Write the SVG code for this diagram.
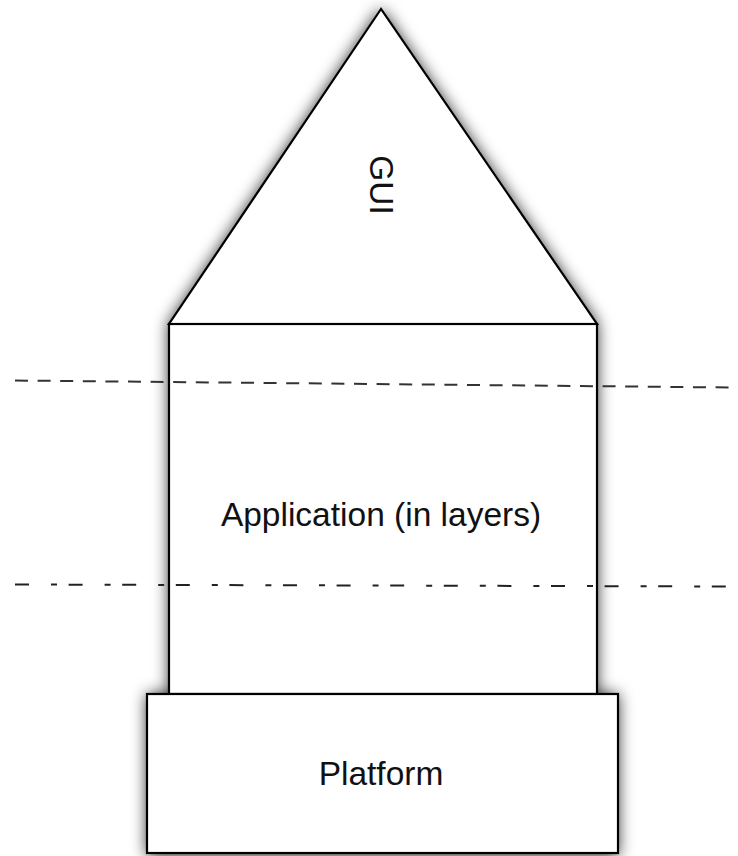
<svg xmlns="http://www.w3.org/2000/svg" width="738" height="856" viewBox="0 0 738 856">
  <defs>
    <filter id="soft" x="-20%" y="-20%" width="140%" height="140%">
      <feGaussianBlur stdDeviation="8"/>
    </filter>
  </defs>
  <style>
    .shape { fill: #ffffff; stroke: #000000; stroke-width: 2.2; stroke-linejoin: miter; }
    .shadow { fill: #000000; fill-opacity: 0.85; stroke: none; }
    .label { font-family: "Liberation Sans", Arial, sans-serif; font-size: 33.5px; fill: #111111; text-anchor: middle; }
    .dash { fill: none; stroke: #333333; stroke-width: 2; stroke-dasharray: 13 9.6; }
    .dashdot { fill: none; stroke: #222222; stroke-width: 2; stroke-dasharray: 14 22 6 11.6; }
  </style>

  <rect width="738" height="856" fill="#ffffff"/>

  <!-- soft halo under the stack of shapes -->
  <g id="halo" filter="url(#soft)">
    <polygon class="shadow" points="381,9 169,324 597,324"/>
    <rect class="shadow" x="169" y="324" width="428" height="370"/>
    <rect class="shadow" x="147" y="694" width="471" height="162"/>
  </g>

  <g id="gui">
    <polygon class="shape" points="381,9 169,324 597,324"/>
  </g>
  <g id="application">
    <rect class="shape" x="169" y="324" width="428" height="370"/>
  </g>
  <g id="platform">
    <rect class="shape" x="147" y="694" width="471" height="159"/>
  </g>

  <g id="gui-label">
    <text class="label" transform="translate(370,185) rotate(90)">GUI</text>
  </g>
  <g id="application-label">
    <text class="label" x="381" y="526">Application (in layers)</text>
  </g>
  <g id="platform-label">
    <text class="label" x="381" y="785">Platform</text>
  </g>

  <g id="connectors">
    <line class="dash" x1="15" y1="380.5" x2="731" y2="387.5"/>
    <line class="dashdot" x1="15" y1="584.5" x2="731" y2="586.5"/>
  </g>
</svg>
